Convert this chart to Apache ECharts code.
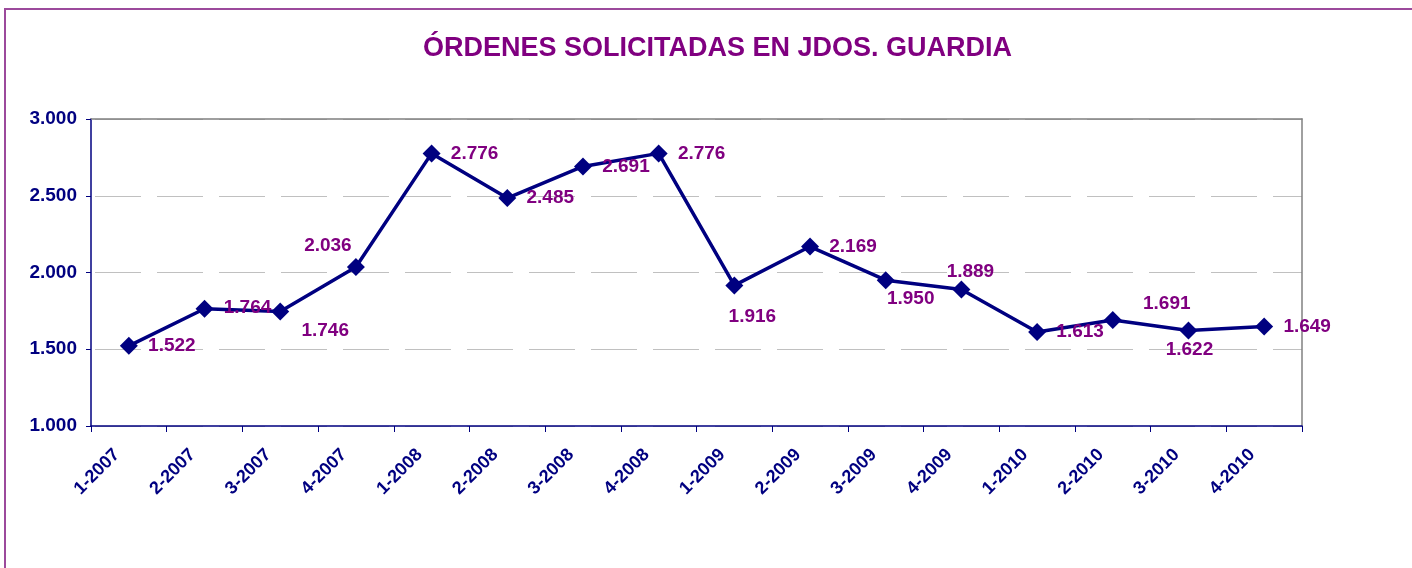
<!DOCTYPE html>
<html>
<head>
<meta charset="utf-8">
<script src="https://cdn.jsdelivr.net/npm/echarts@6/dist/echarts.min.js"></script>
<style>
  html, body { margin: 0; padding: 0; background: #fff; }
  #chart { width: 1412px; height: 568px; }
</style>
</head>
<body>
<div id="chart"></div>
<script>
    // trimestres
    var categories = ['1-2007', '2-2007', '3-2007', '4-2007', '1-2008', '2-2008', '3-2008', '4-2008',
        '1-2009', '2-2009', '3-2009', '4-2009', '1-2010', '2-2010', '3-2010', '4-2010'];
    // órdenes solicitadas
    var ordenes = [1522, 1764, 1746, 2036, 2776, 2485, 2691, 2776,
        1916, 2169, 1950, 1889, 1613, 1691, 1622, 1649];
    var yTicks = [1000, 1500, 2000, 2500, 3000];

    // donde va cada etiqueta respecto al punto (estilo)
    var labelOffsets = [[43, 0], [43, -1], [45, 19], [-28, -21], [43, 0], [43, 0], [43, 0], [43, 0],
        [18, 31], [43, 0], [25, 19], [9, -18], [43, 0], [54, -16], [1, 19], [43, 0]];

    function fmt(v) {
        return (v / 1000).toFixed(3);
    }

    var chart = echarts.init(document.getElementById('chart'));

    var option = {
        animation: false,
        backgroundColor: '#fff',
        textStyle: {fontFamily: 'Liberation Sans, Arial, sans-serif'},
        title: {
            text: 'ÓRDENES SOLICITADAS EN JDOS. GUARDIA',
            left: 418,
            top: 30,
            textStyle: {color: '#800080', fontSize: 27, fontWeight: 'bold', fontFamily: 'Liberation Sans, Arial, sans-serif'}
        },
        graphic: [{
            type: 'rect',
            shape: {x: 5, y: 9, width: 1500, height: 700},
            style: {fill: 'none', stroke: '#9c4a9c', lineWidth: 2},
            silent: true
        }],
        grid: {left: 91, right: 110, top: 119, bottom: 142},
        xAxis: [{
            type: 'category',
            data: categories,
            boundaryGap: true,
            axisLine: {lineStyle: {color: '#000080', width: 1.5}},
            axisTick: {show: true, length: 6, lineStyle: {color: '#000080'}},
            axisLabel: {
                rotate: 45,
                margin: 14,
                padding: [0, 17, 0, 0],
                interval: 0,
                color: '#000080',
                fontSize: 18,
                fontWeight: 'bold'
            },
            splitLine: {show: false}
        }, {
            type: 'category',
            position: 'top',
            data: categories,
            axisLine: {lineStyle: {color: '#808080', width: 1.5}},
            axisTick: {show: false},
            axisLabel: {show: false}
        }],
        yAxis: [{
            type: 'value',
            min: yTicks[0],
            max: yTicks[yTicks.length - 1],
            interval: 500,
            axisLine: {show: true, lineStyle: {color: '#000080', width: 1.5}},
            axisTick: {show: true, length: 5, lineStyle: {color: '#000080'}},
            axisLabel: {
                margin: 14,
                color: '#000080',
                fontSize: 19,
                fontWeight: 'bold',
                formatter: fmt
            },
            splitLine: {
                show: true,
                lineStyle: {color: '#c0c0c0', width: 1, type: [46, 16], dashOffset: -4}
            }
        }, {
            type: 'value',
            position: 'right',
            min: yTicks[0],
            max: yTicks[yTicks.length - 1],
            interval: 500,
            axisLine: {show: true, lineStyle: {color: '#808080', width: 1.5}},
            axisTick: {show: false},
            axisLabel: {show: false},
            splitLine: {show: false}
        }],
        series: [{
            type: 'line',
            xAxisIndex: 0,
            yAxisIndex: 0,
            data: ordenes.map(function (v, i) {
                return {
                    value: v,
                    label: {offset: labelOffsets[i]}
                };
            }),
            symbol: 'diamond',
            symbolSize: 18,
            lineStyle: {color: '#000080', width: 3.5},
            itemStyle: {color: '#000080'},
            label: {
                show: true,
                position: 'inside',
                color: '#800080',
                fontSize: 19,
                fontWeight: 'bold',
                formatter: function (p) {
                    return fmt(p.value);
                }
            },
            z: 5
        }]
    };

    chart.setOption(option);
</script>
</body>
</html>
